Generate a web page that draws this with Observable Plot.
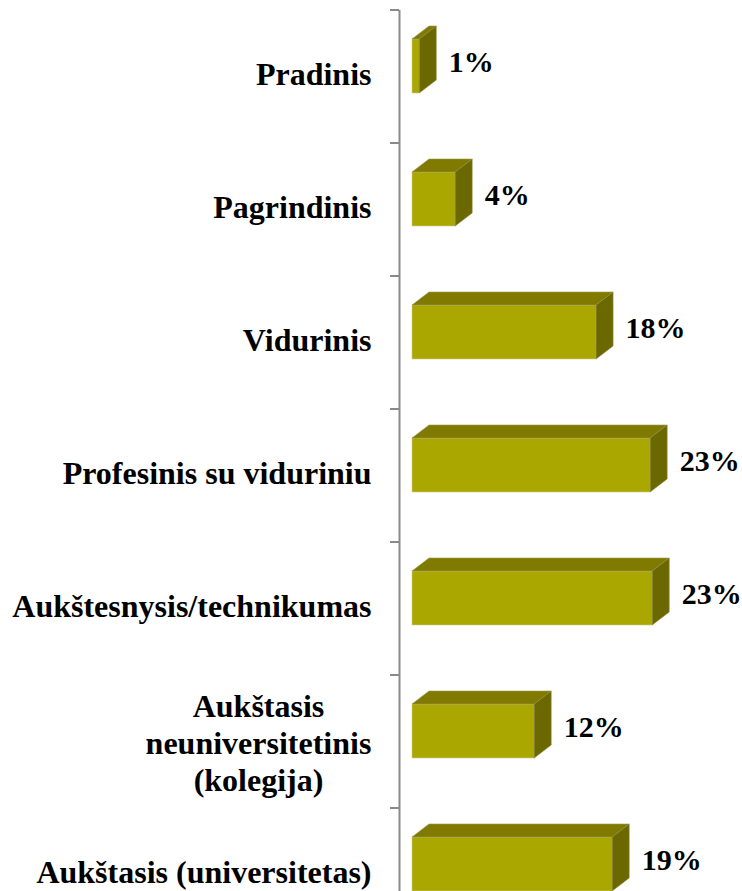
<!DOCTYPE html>
<html>
<head>
<meta charset="utf-8">
<script src="https://cdn.jsdelivr.net/npm/d3@7"></script>
<script src="https://cdn.jsdelivr.net/npm/@observablehq/plot@0.6"></script>
<style>
  html, body { margin: 0; padding: 0; background: #fff; overflow: hidden; }
  #chart svg { display: block; }
</style>
</head>
<body>
<div id="chart"></div>
<script>
// Data
const categories = [
  "Pradinis",
  "Pagrindinis",
  "Vidurinis",
  "Profesinis su viduriniu",
  "Aukštesnysis/technikumas",
  "Aukštasis\nneuniversitetinis\n(kolegija)",
  "Aukštasis (universitetas)"
];
const values = [0.7, 4.15, 17.7, 22.9, 23.1, 11.75, 19.25];
const valueLabels = ["1%", "4%", "18%", "23%", "23%", "12%", "19%"];

const data = categories.map((c, i) => ({cat: c, value: values[i], label: valueLabels[i]}));

// Style constants
const FRONT = "#aaa700", TOP = "#807b00", SIDE = "#6b6800";
const DEPTH_X = 17, DEPTH_Y = 13;     // 3D depth offset (px)
const INSET_TOP = 29, INSET_BOTTOM = 50;
const AXIS = "#8a8a8a";
const AXIS_OFFSET = 13, TICK = 9;
const FONT = "'Liberation Serif', 'Times New Roman', serif";

function bandwidthOf(y) {
  return typeof y.bandwidth === "function" ? y.bandwidth() : (y(categories[1]) - y(categories[0]));
}

// category-boundary ticks on the value axis
function axisTicks(index, scales) {
  const x = scales.x, y = scales.y;
  const g = d3.create("svg:g").attr("stroke", AXIS).attr("stroke-width", 2);
  const xa = x(0) - AXIS_OFFSET;
  for (const c of categories) {
    const yy = y(c);
    g.append("line").attr("x1", xa - TICK).attr("x2", xa).attr("y1", yy).attr("y2", yy);
  }
  return g.node();
}

// top and side faces of the 3D bars
function faces(index, scales) {
  const x = scales.x, y = scales.y;
  const bw = bandwidthOf(y);
  const g = d3.create("svg:g");
  const pts = a => a.map(p => p.join(",")).join(" ");
  for (const d of data) {
    const x0 = x(0), x1 = x(d.value);
    const yt = y(d.cat) + INSET_TOP;
    const yb = y(d.cat) + bw - INSET_BOTTOM;
    g.append("polygon")
      .attr("points", pts([[x0, yt], [x1, yt], [x1 + DEPTH_X, yt - DEPTH_Y], [x0 + DEPTH_X, yt - DEPTH_Y]]))
      .attr("fill", TOP)
      .attr("stroke", "#9c9850").attr("stroke-width", 0.6);
    g.append("polygon")
      .attr("points", pts([[x1, yt], [x1 + DEPTH_X, yt - DEPTH_Y], [x1 + DEPTH_X, yb - DEPTH_Y], [x1, yb]]))
      .attr("fill", SIDE)
      .attr("stroke", "#8f8b45").attr("stroke-width", 0.6);
  }
  return g.node();
}

const chart = Plot.plot({
  width: 742,
  height: 941,
  marginTop: 10,
  marginBottom: 0,
  marginLeft: 412,
  marginRight: 0,
  style: {background: "#fff"},
  x: {domain: [0, 31.73], axis: null},
  y: {domain: categories, padding: 0, axis: null},
  marks: [
    Plot.ruleX([0], {dx: -AXIS_OFFSET, stroke: AXIS, strokeWidth: 2}),
    axisTicks,
    Plot.barX(data, {x: "value", y: "cat", fill: FRONT, insetTop: INSET_TOP, insetBottom: INSET_BOTTOM,
      stroke: "#cfcc8c", strokeWidth: 0.6}),
    faces,
    Plot.text(data, {
      x: "value", y: "cat", text: "label", textAnchor: "start", dx: 29, dy: -15,
      fontSize: 30, fontWeight: "bold", fontFamily: FONT, fill: "#000"
    }),
    Plot.text(data.filter(d => !d.cat.includes("\n")), {
      x: 0, y: "cat", text: "cat", textAnchor: "end", dx: -41, dy: -2,
      fontSize: 32, fontWeight: "bold", fontFamily: FONT, fill: "#000"
    }),
    Plot.text(data.filter(d => d.cat.includes("\n")), {
      x: 0, y: "cat", text: "cat", textAnchor: "middle", dx: -154, dy: 0, lineHeight: 1.15,
      fontSize: 32, fontWeight: "bold", fontFamily: FONT, fill: "#000"
    })
  ]
});
document.getElementById("chart").appendChild(chart);
</script>
</body>
</html>
